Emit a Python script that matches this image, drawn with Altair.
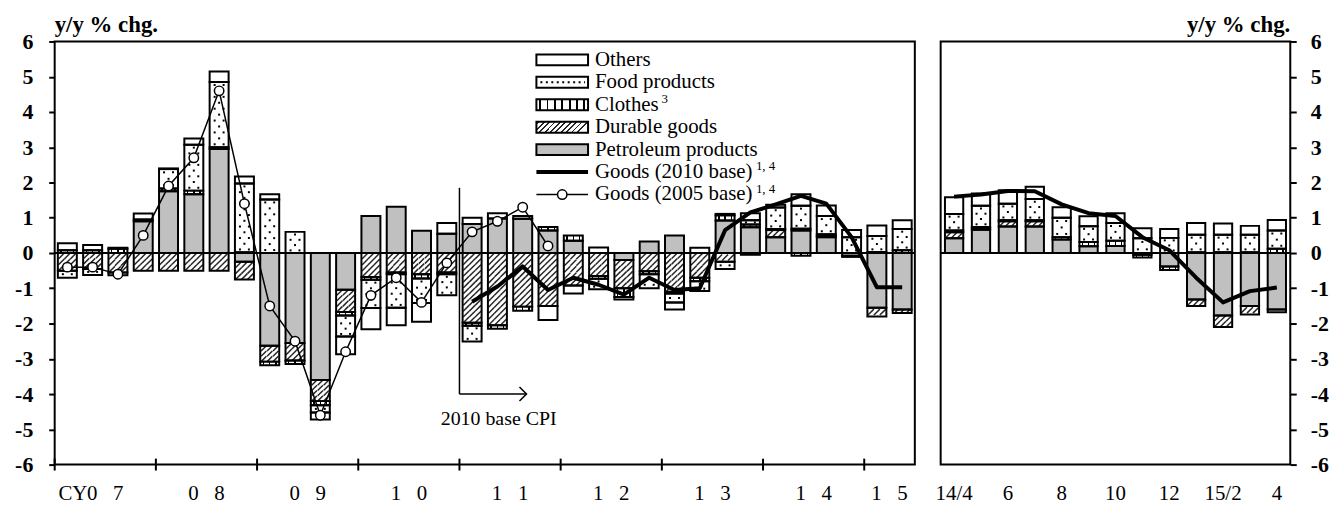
import altair as alt
import pandas as pd

# ---------------- data ----------------
quarters = [f"{y:02d}Q{q}" for y in range(7, 15) for q in range(1, 5)] + ["15Q1", "15Q2"]
year_labels = ["0\u2002 7", "0\u2002 8", "0\u2002 9", "1\u2002 0", "1\u2002 1", "1\u2002 2", "1\u2002 3", "1\u2002 4", "1\u2002 5"]
quarters_per_year = [4, 4, 4, 4, 4, 4, 4, 4, 2]

petroleum_q = [0.00, 0.00, 0.00, 0.90, 1.75, 1.67, 2.95, -0.25, -2.63, -2.55, -3.60, -1.04,
               1.05, 1.31, 0.63, 0.55, 0.82, 0.98, 0.97, 0.64, 0.35, 0.00, -0.20, 0.33,
               0.50, 0.00, 0.92, 0.73, 0.45, 0.64, 0.45, -0.08, -1.55, -1.60]
durable_q = [-0.50, -0.45, -0.55, -0.50, -0.50, -0.50, -0.50, -0.50, -0.45, -0.50, -0.60, -0.63,
             -0.68, -0.55, -0.60, -0.55, -1.98, -2.05, -1.52, -1.50, -0.92, -0.65, -0.80, -0.52,
             -1.10, -0.70, -0.25, -0.05, 0.20, 0.05, 0.03, 0.00, -0.25, -0.10]
clothes_q = [0.08, 0.08, 0.12, 0.05, 0.08, 0.10, 0.05, 0.02, -0.10, -0.10, -0.12, -0.10,
             -0.08, -0.05, -0.12, -0.05, -0.08, -0.10, -0.12, 0.10, 0.15, -0.08, -0.25, -0.08,
             -0.05, -0.10, 0.15, 0.08, 0.03, -0.08, 0.05, -0.03, 0.03, 0.08]
food_q = [-0.20, -0.17, -0.08, 0.00, 0.55, 1.30, 1.85, 1.95, 1.52, 0.60, -0.20, -0.60,
          -0.80, -0.95, -0.70, -0.60, -0.45, 0.00, 0.00, 0.00, 0.00, -0.30, -0.07, -0.40,
          -0.25, -0.28, -0.20, 0.12, 0.61, 0.65, 0.52, 0.45, 0.45, 0.60]
others_q = [0.20, 0.15, 0.03, 0.17, 0.02, 0.18, 0.30, 0.20, 0.15, 0.00, -0.20, -0.50,
            -0.60, -0.50, -0.53, 0.30, 0.18, 0.15, 0.08, -0.40, -0.23, 0.16, 0.00, 0.00,
            -0.20, 0.15, 0.04, 0.20, 0.08, 0.33, 0.30, 0.20, 0.30, 0.25]
goods2005_q = [-0.40, -0.40, -0.60, 0.50, 1.90, 2.70, 4.60, 1.40, -1.50, -2.50, -4.60, -2.80,
               -1.20, -0.70, -1.40, -0.28, 0.60, 0.90, 1.30, 0.20]          # 07Q1 - 11Q4
goods2010_q = [-1.38, -0.95, -0.38, -1.05, -0.70, -0.90, -1.18, -0.70, -1.05, -1.00,
               0.65, 1.15, 1.38, 1.62, 1.40, 0.45, -0.97, -0.97]              # 11Q1 - 15Q2

months = ["14/4", "14/5", "14/6", "14/7", "14/8", "14/9", "14/10", "14/11", "14/12",
          "15/1", "15/2", "15/3", "15/4"]
month_tick_labels = ["14/4", "", "6", "", "8", "", "10", "", "12", "", "15/2", "", "4"]
petroleum_m = [0.42, 0.66, 0.75, 0.75, 0.38, 0.19, 0.20, -0.05, -0.38, -1.32, -1.77, -1.50, -1.60]
durable_m = [0.17, 0.03, 0.15, 0.15, 0.00, 0.00, 0.00, 0.00, 0.00, -0.18, -0.33, -0.24, -0.08]
clothes_m = [0.05, 0.05, 0.03, 0.03, 0.07, 0.12, 0.15, -0.08, -0.10, 0.02, 0.02, 0.02, 0.12]
food_m = [0.47, 0.60, 0.47, 0.60, 0.55, 0.45, 0.50, 0.42, 0.43, 0.50, 0.50, 0.50, 0.52]
others_m = [0.47, 0.35, 0.38, 0.35, 0.30, 0.28, 0.28, 0.28, 0.25, 0.33, 0.32, 0.25, 0.30]
goods2010_m = [1.60, 1.66, 1.76, 1.75, 1.38, 1.13, 1.05, 0.45, 0.08, -0.70, -1.40, -1.08, -0.98]

CATS = ["Petroleum products", "Durable goods", "Clothes", "Food products", "Others"]
legend_labels = ["Others", "Food products", "Clothes", "Durable goods", "Petroleum products",
                 "Goods (2010 base)", "Goods (2005 base)"]

# ---------------- style / layout ----------------
FONT = "Liberation Serif"
H = 426
W_Q = 866
W_M = 352
Y_PX = H / 12.0
GRAY = "#c0c0c0"
HATCH = "#262626"


def stripe_gradient(n, width, line, bg, x2=1.0, y2=0.0):
    stops = [alt.GradientStop(offset=0, color=bg)]
    for k in range(n):
        c = (k + 0.5) / n
        a = max(0.0, c - width / 2)
        b = min(1.0, c + width / 2)
        stops += [alt.GradientStop(offset=a, color=bg), alt.GradientStop(offset=a, color=line),
                  alt.GradientStop(offset=b, color=line), alt.GradientStop(offset=b, color=bg)]
    stops.append(alt.GradientStop(offset=1, color=bg))
    return alt.LinearGradient(gradient="linear", stops=stops, x1=0, y1=0, x2=x2, y2=y2)


CLOTHES_BAR = stripe_gradient(3, 0.08, "black", "white")
CLOTHES_LEG = stripe_gradient(7, 0.035, "black", "white")
DURABLE_LEG = stripe_gradient(10, 0.035, HATCH, "white", x2=1.0, y2=0.21)
FILLS = {"Petroleum products": GRAY, "Durable goods": "white", "Clothes": CLOTHES_BAR,
         "Food products": "white", "Others": "white"}

DUMMY = pd.DataFrame({"_": [0]})


def long_table(series):
    rows = []
    for order, (cat, vals) in enumerate(zip(CATS, series)):
        for i, v in enumerate(vals):
            rows.append({"idx": i, "cat": cat, "order": order, "value": v})
    return pd.DataFrame(rows)


def y_axis(orient, pad):
    return alt.Axis(orient=orient, values=list(range(-6, 7)), labelExpr="toString(datum.value)",
                    labelFont=FONT, labelFontSize=22, labelFontWeight="bold", labelColor="black",
                    labelPadding=pad, tickSize=6, tickWidth=2, tickColor="black", domain=False,
                    grid=False, title=None, minExtent=40, maxExtent=40, labelOverlap=False)


def panel_layers(df, n, width, half_bar, yaxis):
    unit = width / n
    xs = alt.Scale(domain=[0, n], nice=False, zero=False)
    ys = alt.Scale(domain=[-6, 6], nice=False, zero=False)
    base = (alt.Chart(df)
            .transform_filter("datum.value != 0")
            .transform_stack(stack="value", groupby=["idx"], as_=["v0", "v1"],
                             sort=[alt.SortField(field="order", order="ascending")])
            .transform_calculate(xc="datum.idx + 0.5")
            .transform_calculate(xl=f"datum.xc - {half_bar}", xr=f"datum.xc + {half_bar}",
                                 lo="min(datum.v0, datum.v1)", h="abs(datum.v1 - datum.v0)"))
    layers = []
    for cat in CATS:
        layers.append(base.transform_filter(alt.datum.cat == cat)
                      .mark_bar(fill=FILLS[cat], strokeWidth=0)
                      .encode(x=alt.X("xl:Q", scale=xs, axis=None), x2="xr:Q",
                              y=alt.Y("v0:Q", scale=ys, axis=yaxis), y2="v1:Q"))
    # hatch texture for durable goods
    hatch = (base.transform_filter(alt.datum.cat == "Durable goods")
             .transform_calculate(n=f"round(datum.h * {Y_PX} / 6)")
             .transform_filter("datum.n >= 1")
             .transform_calculate(ks="sequence(0, datum.n)")
             .transform_flatten(["ks"], as_=["k"])
             .transform_calculate(py="datum.lo + (datum.k + 0.5) * datum.h / datum.n",
                                  s=f"min(6, datum.h * {Y_PX} / datum.n)",
                                  cs="[-1, 0, 1]")
             .transform_flatten(["cs"], as_=["c"])
             .transform_calculate(px=f"datum.xc + datum.c * 6 / {unit}", sz="datum.s * datum.s")
             .mark_point(shape="M-1,1L1,-1", stroke=HATCH, strokeWidth=1.5, filled=False, opacity=1)
             .encode(x=alt.X("px:Q", scale=xs, axis=None), y=alt.Y("py:Q", scale=ys, axis=yaxis),
                     size=alt.Size("sz:Q", scale=None, legend=None)))
    dots = (base.transform_filter(alt.datum.cat == "Food products")
            .transform_calculate(n=f"round(datum.h * {Y_PX} / 6)")
            .transform_filter("datum.n >= 1")
            .transform_calculate(ks="sequence(0, datum.n)")
            .transform_flatten(["ks"], as_=["k"])
            .transform_calculate(py="datum.lo + (datum.k + 0.5) * datum.h / datum.n",
                                 cs="datum.k % 2 == 0 ? [-1, 1] : [0]")
            .transform_flatten(["cs"], as_=["c"])
            .transform_calculate(px=f"datum.xc + datum.c * 4.5 / {unit}")
            .mark_square(size=4, color="black", opacity=1)
            .encode(x=alt.X("px:Q", scale=xs, axis=None), y=alt.Y("py:Q", scale=ys, axis=yaxis)))
    outline = (base.mark_bar(filled=False, stroke="black", strokeWidth=2, strokeJoin="miter")
               .encode(x=alt.X("xl:Q", scale=xs, axis=None), x2="xr:Q",
                       y=alt.Y("v0:Q", scale=ys, axis=yaxis), y2="v1:Q"))
    zero = (alt.Chart(pd.DataFrame({"v": [0]})).mark_rule(color="black", strokeWidth=2)
            .encode(y=alt.Y("v:Q", scale=ys, axis=yaxis)))
    layers += [hatch, dots, outline, zero]
    return layers, xs, ys


def line_df(vals, start):
    return pd.DataFrame({"idx": [start + i for i in range(len(vals))], "value": vals})


def text_value(txt, x, y, size=21, weight="normal", align="left", baseline="middle"):
    return alt.Chart(DUMMY).mark_text(text=txt, font=FONT, fontSize=size, fontWeight=weight,
                                      align=align, baseline=baseline, color="black").encode(
        x=alt.value(x), y=alt.value(y))


# ---------------- left (quarterly) panel ----------------
yaxis_l = y_axis("left", 16)
dfq = long_table([petroleum_q, durable_q, clothes_q, food_q, others_q])
Lq, xs_q, ys = panel_layers(dfq, len(quarters), W_Q, 0.375, yaxis_l)

switch_idx = quarters.index("11Q1")
l2005 = alt.Chart(line_df(goods2005_q, 0)).transform_calculate(xc="datum.idx + 0.5")
l2010 = alt.Chart(line_df(goods2010_q, switch_idx)).transform_calculate(xc="datum.idx + 0.5")
Lq += [
    l2005.mark_line(color="black", strokeWidth=1.5).encode(
        x=alt.X("xc:Q", scale=xs_q, axis=None), y=alt.Y("value:Q", scale=ys, axis=yaxis_l)),
    l2005.mark_point(shape="circle", filled=True, fill="white", stroke="black", strokeWidth=1.5,
                     size=90, opacity=1).encode(
        x=alt.X("xc:Q", scale=xs_q, axis=None), y=alt.Y("value:Q", scale=ys, axis=yaxis_l)),
    l2010.mark_line(color="black", strokeWidth=4, strokeJoin="round").encode(
        x=alt.X("xc:Q", scale=xs_q, axis=None), y=alt.Y("value:Q", scale=ys, axis=yaxis_l)),
]

# base-change annotation
ann = pd.DataFrame({"x": [switch_idx], "xe": [switch_idx + 2.65], "yt": [1.85], "yb": [-4.0]})
annc = alt.Chart(ann)
Lq += [
    annc.mark_rule(color="black", strokeWidth=1.5).encode(
        x=alt.X("x:Q", scale=xs_q, axis=None), y=alt.Y("yt:Q", scale=ys, axis=yaxis_l), y2="yb:Q"),
    annc.mark_rule(color="black", strokeWidth=1.5).encode(
        x=alt.X("x:Q", scale=xs_q, axis=None), x2="xe:Q", y=alt.Y("yb:Q", scale=ys, axis=yaxis_l)),
    annc.mark_point(shape="M-1,-1L0,0L-1,1", size=200, stroke="black", strokeWidth=1.5,
                    filled=False, opacity=1).encode(
        x=alt.X("xe:Q", scale=xs_q, axis=None), y=alt.Y("yb:Q", scale=ys, axis=yaxis_l)),
    annc.transform_calculate(tx="datum.x + 1.55", ty="datum.yb - 0.7").mark_text(
        text="2010 base CPI", font=FONT, fontSize=20, align="center", baseline="middle").encode(
        x=alt.X("tx:Q", scale=xs_q, axis=None), y=alt.Y("ty:Q", scale=ys, axis=yaxis_l)),
]

# year ticks and labels
bounds = [0]
for q in quarters_per_year:
    bounds.append(bounds[-1] + q)
centers = [(bounds[i] + bounds[i + 1]) / 2 for i in range(len(year_labels))]
ylab = pd.DataFrame({"xc": centers, "label": year_labels})
ytk = pd.DataFrame({"b": bounds[:-1]})
Lq += [
    alt.Chart(ytk).mark_rule(color="black", strokeWidth=2).encode(
        x=alt.X("b:Q", scale=xs_q, axis=None), y=alt.value(H - 6), y2=alt.value(H + 6)),
    alt.Chart(ylab).mark_text(font=FONT, fontSize=21, baseline="middle", align="center").encode(
        x=alt.X("xc:Q", scale=xs_q, axis=None), y=alt.value(H + 30), text="label:N"),
    alt.Chart(ylab.head(1)).mark_text(text="CY", font=FONT, fontSize=21, baseline="middle",
                                     align="right", dx=-18).encode(
        x=alt.X("xc:Q", scale=xs_q, axis=None), y=alt.value(H + 30)),
    text_value("y/y % chg.", 0, -10, size=23, weight="bold", baseline="alphabetic"),
]

# legend (inside the left panel)
LX0, LX1, LTX = 485, 537, 544
legend_y = [18.5 + 22.6 * i for i in range(len(legend_labels))]
swatch_fill = ["white", "white", CLOTHES_LEG, DURABLE_LEG, GRAY]
for i in range(5):
    ry = legend_y[i]
    Lq.append(alt.Chart(DUMMY).mark_rect(fill=swatch_fill[i], stroke="black", strokeWidth=2).encode(
        x=alt.value(LX0), x2=alt.value(LX1), y=alt.value(ry - 5.5), y2=alt.value(ry + 5.5)))
Lq.append(alt.Chart(DUMMY).mark_rule(color="black", strokeWidth=2, strokeDash=[2, 3.5]).encode(
    x=alt.value(LX0 + 4), x2=alt.value(LX1 - 3), y=alt.value(legend_y[1])))
Lq.append(alt.Chart(DUMMY).mark_rule(color="black", strokeWidth=4).encode(
    x=alt.value(LX0), x2=alt.value(LX1), y=alt.value(legend_y[5])))
Lq.append(alt.Chart(DUMMY).mark_rule(color="black", strokeWidth=1.5).encode(
    x=alt.value(LX0), x2=alt.value(LX1), y=alt.value(legend_y[6])))
Lq.append(alt.Chart(DUMMY).mark_point(shape="circle", filled=True, fill="white", stroke="black",
                                      strokeWidth=1.5, size=90, opacity=1).encode(
    x=alt.value((LX0 + LX1) / 2), y=alt.value(legend_y[6])))
for i, lab in enumerate(legend_labels):
    Lq.append(text_value(lab, LTX, legend_y[i]))
Lq.append(text_value("3", LTX + 67, legend_y[2] - 6, size=13))
Lq.append(text_value("1, 4", LTX + 162, legend_y[5] - 6, size=13))
Lq.append(text_value("1, 4", LTX + 162, legend_y[6] - 6, size=13))

left = alt.layer(*Lq).properties(width=W_Q, height=H)

# ---------------- right (monthly) panel ----------------
yaxis_r = y_axis("right", 14)
dfm = long_table([petroleum_m, durable_m, clothes_m, food_m, others_m])
Lm, xs_m, ys_m = panel_layers(dfm, len(months), W_M, 0.34, yaxis_r)
lm = alt.Chart(line_df(goods2010_m, 0)).transform_calculate(xc="datum.idx + 0.5")
mlab = pd.DataFrame({"xc": [i + 0.5 for i in range(len(months))], "label": month_tick_labels})
Lm += [
    lm.mark_line(color="black", strokeWidth=4, strokeJoin="round").encode(
        x=alt.X("xc:Q", scale=xs_m, axis=None), y=alt.Y("value:Q", scale=ys_m, axis=yaxis_r)),
    alt.Chart(mlab).mark_text(font=FONT, fontSize=21, baseline="middle", align="center").encode(
        x=alt.X("xc:Q", scale=xs_m, axis=None), y=alt.value(H + 30), text="label:N"),
    text_value("y/y % chg.", W_M, -10, size=23, weight="bold", align="right", baseline="alphabetic"),
]
right = alt.layer(*Lm).properties(width=W_M, height=H)

chart = (alt.hconcat(left, right, spacing=17)
         .properties(padding={"left": 5, "top": 3, "right": 0, "bottom": 0})
         .configure_view(stroke="black", strokeWidth=2))

chart.save("out.html", embed_options={"renderer": "svg", "actions": False})
